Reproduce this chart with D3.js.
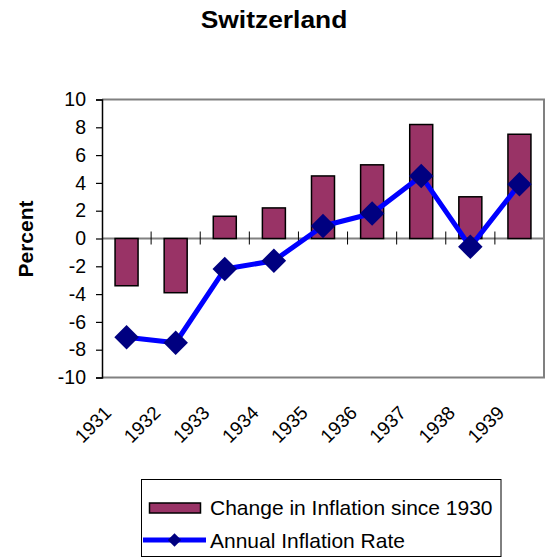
<!DOCTYPE html>
<html><head><meta charset="utf-8">
<script src="https://cdn.jsdelivr.net/npm/d3@7/dist/d3.min.js"></script>
<style>
html,body{margin:0;padding:0;background:#fff;}
svg{display:block;font-family:"Liberation Sans",Arial,sans-serif;}
</style></head>
<body><svg id="chart" width="545" height="560"></svg>
<script>
const years = ["1931","1932","1933","1934","1935","1936","1937","1938","1939"];
const changeSince1930 = [-3.4,-3.9,1.6,2.2,4.5,5.3,8.2,3.0,7.5];
const annualRate = [-7.1,-7.5,-2.2,-1.6,0.9,1.8,4.5,-0.6,3.9];
const yTicks = [-10,-8,-6,-4,-2,0,2,4,6,8,10];
const seriesNames = ["Change in Inflation since 1930","Annual Inflation Rate"];

const svg = d3.select("#chart");
const L = 102, R = 544, T = 99.5, B = 377.5;

const x = d3.scaleBand().domain(years).range([L, R]).paddingInner(0).paddingOuter(0);
const y = d3.scaleLinear().domain([-10, 10]).range([B, T]);

// title
svg.append("text").attr("transform","translate(274,28) scale(1.1,1)").attr("text-anchor","middle")
  .attr("font-size", 24).attr("font-weight","bold").text("Switzerland");

// y label
svg.append("text").attr("transform","translate(33,239) rotate(-90)").attr("text-anchor","middle")
  .attr("font-size", 21).attr("font-weight","bold").text("Percent");

// plot border (gray)
svg.append("path").attr("d", `M${L},${T}H${R}V${B}H${L}`).attr("fill","none")
  .attr("stroke","#808080").attr("stroke-width",2);

// zero line
svg.append("line").attr("x1",L).attr("x2",R).attr("y1",y(0)).attr("y2",y(0))
  .attr("stroke","#808080").attr("stroke-width",2);

// y axis
const yAxis = d3.axisLeft(y).tickValues(yTicks).tickSize(6).tickPadding(10).tickFormat(d3.format("d"));
const gy = svg.append("g").attr("transform",`translate(${L},0)`).call(yAxis);
gy.select(".domain").attr("stroke","#000").attr("stroke-width",1.5);
gy.selectAll(".tick line").attr("stroke","#000").attr("stroke-width",1.2);
gy.selectAll(".tick text").attr("font-size",19.5).attr("font-family","Liberation Sans, Arial, sans-serif").attr("fill","#000")
  .text(d => d < 0 ? "-" + Math.abs(d) : d);

// category ticks at band boundaries
svg.append("g").selectAll("line").data(years.slice(1)).join("line")
  .attr("x1", d => x(d)).attr("x2", d => x(d))
  .attr("y1", y(0) - 7).attr("y2", y(0) + 6)
  .attr("stroke","#000").attr("stroke-width",1);

// bars
const bw = 23;
svg.append("g").selectAll("rect").data(years).join("rect")
  .attr("x", d => x(d) + x.bandwidth()/2 - bw/2)
  .attr("width", bw)
  .attr("y", (d,i) => Math.min(y(changeSince1930[i]), y(0)))
  .attr("height", (d,i) => Math.abs(y(changeSince1930[i]) - y(0)))
  .attr("fill","#993366").attr("stroke","#000").attr("stroke-width",1.5);

// line
const line = d3.line().x((d,i) => x(years[i]) + x.bandwidth()/2).y(d => y(d));
svg.append("path").datum(annualRate).attr("d", line).attr("fill","none")
  .attr("stroke","#0000ff").attr("stroke-width",5).attr("stroke-linejoin","round");

// markers
const dia = d3.symbol().type(d3.symbolSquare).size(300);
svg.append("g").selectAll("path").data(annualRate).join("path")
  .attr("d", dia())
  .attr("transform",(d,i) => `translate(${x(years[i]) + x.bandwidth()/2},${y(d)}) rotate(45)`)
  .attr("fill","#000080");

// x labels
svg.append("g").selectAll("text").data(years).join("text")
  .attr("transform", d => `translate(${x(d) + x.bandwidth()/2 - 14},${414}) rotate(-45)`)
  .attr("text-anchor","end").attr("font-size",19).text(d => d);

// legend
const lg = svg.append("g");
lg.append("rect").attr("x",141.5).attr("y",479.5).attr("width",359.5).attr("height",77)
  .attr("fill","#fff").attr("stroke","#000").attr("stroke-width",1);
lg.append("rect").attr("x",149.5).attr("y",503).attr("width",51).attr("height",10)
  .attr("fill","#993366").attr("stroke","#000").attr("stroke-width",1.5);
lg.append("text").attr("x",210).attr("y",514.5).attr("font-size",21).text(seriesNames[0]);
lg.append("line").attr("x1",143).attr("x2",206).attr("y1",540).attr("y2",540)
  .attr("stroke","#0000ff").attr("stroke-width",5);
lg.append("path").attr("d", d3.symbol().type(d3.symbolSquare).size(90)())
  .attr("transform","translate(174.5,540) rotate(45)").attr("fill","#000080");
lg.append("text").attr("x",210).attr("y",548).attr("font-size",21).text(seriesNames[1]);
</script></body></html>
